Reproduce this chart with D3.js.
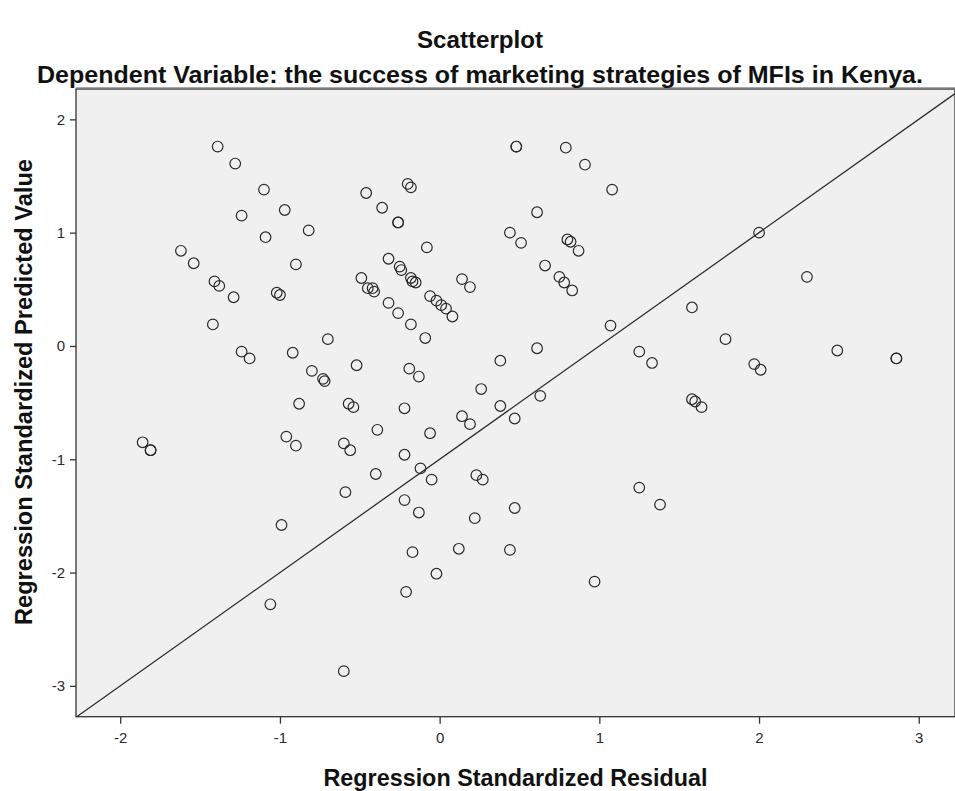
<!DOCTYPE html>
<html>
<head>
<meta charset="utf-8">
<script src="https://cdnjs.cloudflare.com/ajax/libs/d3/7.8.5/d3.min.js"></script>
<style>
  html, body { margin: 0; padding: 0; background: #ffffff; }
  svg { display: block; font-family: "Liberation Sans", Arial, sans-serif; }
</style>
</head>
<body>
<svg id="chart" width="955" height="791"></svg>
<script>
// Regression Standardized Residual (x) for each case
const residual = [
  -1.39, -1.28, -1.10, -0.97, -1.24, -0.82, -1.09, -0.46, -1.62, -1.54,
  -0.90, -1.41, -1.38, -1.29, -1.02, -1.00, -0.49, -0.45, -1.42, -1.24,
  -1.19, -0.92, -0.70, -0.52, -0.80, -0.73, -0.72, -0.88, -0.57, -0.54,
  -1.86, -1.81, -1.81, -0.96, -0.90, -0.60, -0.56, -0.59, -0.99, -1.06,
  -0.60, 0.48, 0.48, 0.79, 0.91, 1.08, -0.20, -0.18, -0.36, -0.26,
  -0.26, -0.08, 0.61, 0.44, 0.51, 0.80, 0.82, 0.87, 0.66, 0.75,
  0.78, 0.83, -0.32, -0.25, -0.24, -0.18, -0.17, -0.15, 0.14, 0.19,
  -0.42, -0.41, -0.32, -0.26, -0.18, -0.09, -0.06, -0.02, 0.01, 0.04,
  0.08, 1.07, 1.25, 1.33, 0.61, 0.38, -0.19, -0.13, 0.26, 0.63,
  0.38, 0.47, -0.22, 0.14, 0.19, -0.39, -0.06, -0.22, -0.12, -0.05,
  -0.40, 0.23, 0.27, 1.25, -0.22, 0.47, 1.38, -0.13, 0.22, -0.17,
  0.12, 0.44, -0.02, -0.21, 0.97, 1.58, 1.79, 1.97, 2.01, 2.49,
  2.86, 2.86, 1.58, 1.60, 1.64, 2.00, 2.30
];

// Regression Standardized Predicted Value (y) for each case
const predicted = [
  1.76, 1.61, 1.38, 1.20, 1.15, 1.02, 0.96, 1.35, 0.84, 0.73,
  0.72, 0.57, 0.53, 0.43, 0.47, 0.45, 0.60, 0.51, 0.19, -0.05,
  -0.11, -0.06, 0.06, -0.17, -0.22, -0.29, -0.31, -0.51, -0.51, -0.54,
  -0.85, -0.92, -0.92, -0.80, -0.88, -0.86, -0.92, -1.29, -1.58, -2.28,
  -2.87, 1.76, 1.76, 1.75, 1.60, 1.38, 1.43, 1.40, 1.22, 1.09,
  1.09, 0.87, 1.18, 1.00, 0.91, 0.94, 0.92, 0.84, 0.71, 0.61,
  0.56, 0.49, 0.77, 0.70, 0.67, 0.60, 0.57, 0.56, 0.59, 0.52,
  0.51, 0.48, 0.38, 0.29, 0.19, 0.07, 0.44, 0.40, 0.36, 0.33,
  0.26, 0.18, -0.05, -0.15, -0.02, -0.13, -0.20, -0.27, -0.38, -0.44,
  -0.53, -0.64, -0.55, -0.62, -0.69, -0.74, -0.77, -0.96, -1.08, -1.18,
  -1.13, -1.14, -1.18, -1.25, -1.36, -1.43, -1.40, -1.47, -1.52, -1.82,
  -1.79, -1.80, -2.01, -2.17, -2.08, 0.34, 0.06, -0.16, -0.21, -0.04,
  -0.11, -0.11, -0.47, -0.49, -0.54, 1.00, 0.61
];

const xTicks = [-2, -1, 0, 1, 2, 3];
const yTicks = [-3, -2, -1, 0, 1, 2];
const xDomain = [-2.277, 3.227];
const yDomain = [-3.272, 2.268];

// Reference line: predicted = slope * residual + intercept
const refSlope = 1;
const refIntercept = -1;

const titleText = "Scatterplot";
const subtitleText = "Dependent Variable: the success of marketing strategies of MFIs in Kenya.";
const xTitle = "Regression Standardized Residual";
const yTitle = "Regression Standardized Predicted Value";

const svg = d3.select("#chart");
const plot = { left: 76, right: 955, top: 89, bottom: 716.7 };

const x = d3.scaleLinear().domain(xDomain).range([plot.left, plot.right]);
const y = d3.scaleLinear().domain(yDomain).range([plot.bottom, plot.top]);

// Plot background
svg.append("rect")
  .attr("x", plot.left).attr("y", plot.top)
  .attr("width", plot.right - plot.left).attr("height", plot.bottom - plot.top)
  .attr("fill", "#f0f0f0");

// Soft shadow line over the top edge
svg.append("line")
  .attr("x1", plot.left).attr("x2", plot.right)
  .attr("y1", plot.top - 1.5).attr("y2", plot.top - 1.5)
  .attr("stroke", "#a8a8a8").attr("stroke-width", 1);

// Clip for marks inside the plot
svg.append("clipPath").attr("id", "plotClip")
  .append("rect")
  .attr("x", plot.left).attr("y", plot.top)
  .attr("width", plot.right - plot.left).attr("height", plot.bottom - plot.top);

const marks = svg.append("g").attr("clip-path", "url(#plotClip)");

// Reference line across the whole x domain
marks.append("line")
  .attr("x1", x(xDomain[0])).attr("y1", y(refSlope * xDomain[0] + refIntercept))
  .attr("x2", x(xDomain[1])).attr("y2", y(refSlope * xDomain[1] + refIntercept))
  .attr("stroke", "#303030").attr("stroke-width", 1.3);

// Points
marks.selectAll("circle.pt")
  .data(residual.map((r, i) => ({ r, p: predicted[i] })))
  .join("circle")
  .attr("class", "pt")
  .attr("cx", d => x(d.r))
  .attr("cy", d => y(d.p))
  .attr("r", 5.3)
  .attr("fill", "none")
  .attr("stroke", "#2a2a2a")
  .attr("stroke-width", 1.2);

// Frame
svg.append("rect")
  .attr("x", plot.left).attr("y", plot.top)
  .attr("width", plot.right - plot.left).attr("height", plot.bottom - plot.top)
  .attr("fill", "none").attr("stroke", "#333").attr("stroke-width", 1.3);

// Axes (plain hyphen for negative labels)
const fmt = d => String(d);
const xAxis = d3.axisBottom(x).tickValues(xTicks).tickFormat(fmt)
  .tickSizeOuter(0).tickSizeInner(7).tickPadding(9);
const yAxis = d3.axisLeft(y).tickValues(yTicks).tickFormat(fmt)
  .tickSizeOuter(0).tickSizeInner(6).tickPadding(5);

const gx = svg.append("g").attr("transform", `translate(0,${plot.bottom})`).call(xAxis);
const gy = svg.append("g").attr("transform", `translate(${plot.left},0)`).call(yAxis);

[gx, gy].forEach(g => {
  g.select(".domain").remove();
  g.selectAll(".tick line").attr("stroke", "#333").attr("stroke-width", 1.3);
  g.selectAll(".tick text")
    .attr("fill", "#2a2a2a")
    .style("font-family", "'Liberation Sans', Arial, sans-serif")
    .style("font-size", "15px");
});

// Titles
function boldText(sel, size, len) {
  return sel.style("font-size", size + "px").style("font-weight", "bold")
    .attr("fill", "#111")
    .attr("textLength", len).attr("lengthAdjust", "spacingAndGlyphs");
}

boldText(svg.append("text")
  .attr("x", 480).attr("y", 48)
  .attr("text-anchor", "middle")
  .text(titleText), 24, 126);

boldText(svg.append("text")
  .attr("x", 480).attr("y", 83)
  .attr("text-anchor", "middle")
  .text(subtitleText), 24, 886);

boldText(svg.append("text")
  .attr("x", (plot.left + plot.right) / 2).attr("y", 786)
  .attr("text-anchor", "middle")
  .text(xTitle), 23, 384);

boldText(svg.append("text")
  .attr("transform", "translate(32,392) rotate(-90)")
  .attr("text-anchor", "middle")
  .text(yTitle), 23, 466);
</script>
</body>
</html>
